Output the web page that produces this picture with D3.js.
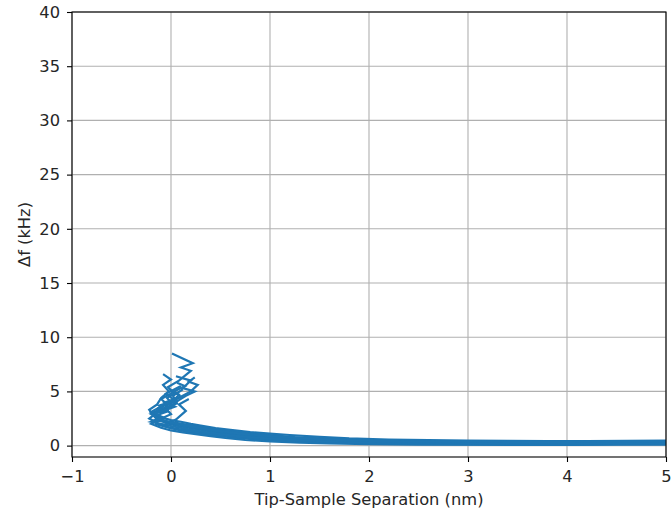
<!DOCTYPE html>
<html><head><meta charset="utf-8">
<script src="https://cdn.jsdelivr.net/npm/d3@7"></script>
<style>body{margin:0;background:#fff}svg{display:block}text{font-family:"DejaVu Sans",sans-serif;fill:#262626}</style>
</head><body>
<script>
const xTicks = [-1, 0, 1, 2, 3, 4, 5];
const yTicks = [0, 5, 10, 15, 20, 25, 30, 35, 40];
const xLabel = "Tip-Sample Separation (nm)";
const yLabel = "Δf (kHz)";

const sepA = [5.0, 4.6, 4.2, 3.8, 3.4, 3.0, 2.6, 2.2, 1.8, 1.5, 1.2, 1.0, 0.8, 0.6, 0.45, 0.3, 0.2, 0.1, 0.0, -0.1, -0.18, -0.12, -0.05, -0.1, 0.02, -0.03, 0.08, 0.2, 0.1, 0.22, 0.01];
const dfA  = [0.46, 0.45, 0.42, 0.42, 0.44, 0.47, 0.5, 0.56, 0.66, 0.8, 0.98, 1.1, 1.25, 1.45, 1.62, 1.85, 2.0, 2.2, 2.35, 2.6, 2.9, 3.4, 3.9, 4.3, 4.9, 5.4, 6.0, 6.9, 7.2, 7.6, 8.5];
const sepB = [5.0, 4.5, 4.0, 3.5, 3.0, 2.5, 2.0, 1.7, 1.4, 1.1, 0.9, 0.7, 0.5, 0.35, 0.22, 0.1, -0.02, -0.12, -0.22, -0.15, -0.06, 0.0, 0.1, 0.2, 0.27, 0.18, 0.24];
const dfB  = [0.15, 0.14, 0.1, 0.1, 0.12, 0.15, 0.2, 0.27, 0.35, 0.45, 0.55, 0.7, 0.88, 1.05, 1.2, 1.4, 1.65, 2.0, 2.5, 3.0, 3.5, 4.0, 4.5, 5.0, 5.6, 5.9, 6.3];
const sepC = [5.0, 4.4, 3.9, 3.3, 2.8, 2.3, 1.9, 1.5, 1.2, 0.95, 0.75, 0.55, 0.4, 0.25, 0.12, 0.02, -0.08, -0.18, -0.22, -0.14, -0.1, -0.02, -0.08, 0.0, -0.08];
const dfC  = [0.38, 0.36, 0.33, 0.33, 0.36, 0.4, 0.46, 0.6, 0.75, 0.92, 1.08, 1.3, 1.48, 1.68, 1.88, 2.05, 2.3, 2.8, 3.3, 3.8, 4.4, 5.0, 5.6, 6.1, 6.6];
const sepD = [5.0, 4.5, 4.0, 3.5, 3.0, 2.5, 2.0, 1.6, 1.3, 1.0, 0.75, 0.55, 0.4, 0.25, 0.12, 0.0, -0.1, -0.2, -0.12, 0.0, -0.05, 0.06, 0.02, 0.12];
const dfD  = [0.1, 0.1, 0.07, 0.06, 0.08, 0.1, 0.13, 0.2, 0.28, 0.38, 0.52, 0.7, 0.88, 1.05, 1.22, 1.4, 1.65, 2.0, 2.4, 2.9, 3.4, 3.9, 4.6, 5.2];
const sepE = [5.0, 4.5, 4.0, 3.5, 3.0, 2.5, 2.0, 1.6, 1.3, 1.05, 0.85, 0.65, 0.5, 0.35, 0.2, 0.08, -0.04, -0.15, -0.2, -0.1, 0.0, 0.08, 0.15, 0.24, 0.12, 0.2, 0.05];
const dfE  = [0.3, 0.3, 0.25, 0.25, 0.28, 0.3, 0.34, 0.44, 0.55, 0.68, 0.82, 1.0, 1.18, 1.38, 1.6, 1.8, 2.05, 2.5, 3.0, 3.3, 3.7, 4.2, 4.6, 5.0, 5.3, 6.0, 6.4];
const sepF = [5.0, 4.5, 4.0, 3.5, 3.0, 2.5, 2.0, 1.6, 1.25, 1.0, 0.8, 0.6, 0.42, 0.28, 0.15, 0.05, -0.05, -0.18, -0.08, -0.2, -0.1, 0.05, -0.05, 0.1];
const dfF  = [0.42, 0.42, 0.38, 0.37, 0.4, 0.44, 0.5, 0.62, 0.78, 0.98, 1.12, 1.35, 1.55, 1.75, 1.95, 2.1, 2.2, 2.3, 2.6, 3.1, 3.6, 4.1, 4.8, 5.5];
const sepG = [5.0, 4.5, 4.0, 3.5, 3.0, 2.5, 2.0, 1.6, 1.3, 1.0, 0.8, 0.6, 0.45, 0.3, 0.18, 0.06, -0.06, -0.16, -0.05, 0.05, 0.15, 0.08, 0.18];
const dfG  = [0.22, 0.2, 0.17, 0.17, 0.2, 0.22, 0.26, 0.34, 0.42, 0.55, 0.68, 0.85, 1.0, 1.2, 1.38, 1.55, 1.75, 2.0, 1.95, 2.4, 3.2, 3.8, 4.3];
const sepH = [5.0, 4.5, 4.0, 3.5, 3.0, 2.5, 2.0, 1.6, 1.3, 1.0, 0.8, 0.6, 0.45, 0.3, 0.2, 0.1, 0.0, -0.08, -0.16, -0.05, -0.12, 0.0, -0.04, 0.05];
const dfH  = [0.34, 0.33, 0.3, 0.3, 0.33, 0.36, 0.4, 0.5, 0.62, 0.8, 0.95, 1.15, 1.32, 1.55, 1.72, 1.9, 2.1, 2.3, 2.75, 3.1, 3.5, 4.0, 4.4, 4.9];
const sepI = [5.0, 4.5, 4.0, 3.5, 3.0, 2.5, 2.0, 1.6, 1.3, 1.0, 0.8, 0.6, 0.45, 0.3, 0.18, 0.05, -0.08, -0.2, -0.1, -0.16, -0.04, -0.12, 0.02, 0.08, 0.0];
const dfI  = [0.26, 0.25, 0.2, 0.21, 0.24, 0.27, 0.3, 0.4, 0.5, 0.64, 0.78, 0.95, 1.12, 1.32, 1.5, 1.72, 1.95, 2.2, 2.5, 3.0, 3.2, 3.7, 4.1, 4.7, 5.1];
const sepJ = [5.0, 4.5, 4.0, 3.5, 3.0, 2.5, 2.0, 1.6, 1.3, 1.0, 0.8, 0.6, 0.45, 0.3, 0.2, 0.1, 0.0, -0.1, -0.2, -0.08, 0.04, -0.06, 0.1, 0.03, 0.14, 0.06];
const dfJ  = [0.38, 0.37, 0.34, 0.33, 0.36, 0.4, 0.44, 0.55, 0.7, 0.88, 1.02, 1.22, 1.4, 1.62, 1.8, 1.98, 2.15, 2.4, 2.9, 3.2, 3.6, 4.0, 4.5, 5.0, 5.5, 5.8];

const sweeps = [[sepA, dfA], [sepB, dfB], [sepC, dfC], [sepD, dfD], [sepE, dfE],
                [sepF, dfF], [sepG, dfG], [sepH, dfH], [sepI, dfI], [sepJ, dfJ]];

const W = 672, H = 511;
const m = {left: 72, right: 6, top: 12, bottom: 54};
const svg = d3.select("body").append("svg").attr("width", W).attr("height", H);
const x = d3.scaleLinear().domain([-1, 5]).range([m.left, W - m.right]);
const y = d3.scaleLinear().domain([-1.05, 40]).range([H - m.bottom, m.top]);
const FS = "16.3px";

// grid
const g = svg.append("g");
g.selectAll(".gx").data(xTicks).join("line")
  .attr("x1", d => x(d)).attr("x2", d => x(d)).attr("y1", y(-1.05)).attr("y2", y(40))
  .attr("stroke", "#b0b0b0").attr("stroke-width", 1.1);
g.selectAll(".gy").data(yTicks).join("line")
  .attr("y1", d => y(d)).attr("y2", d => y(d)).attr("x1", x(-1)).attr("x2", x(5))
  .attr("stroke", "#b0b0b0").attr("stroke-width", 1.1);

// data
const line = d3.line().x(d => x(d[0])).y(d => y(d[1]));
svg.append("clipPath").attr("id", "c").append("rect")
  .attr("x", x(-1)).attr("y", y(40)).attr("width", x(5) - x(-1)).attr("height", y(-1.05) - y(40));
svg.append("g").attr("clip-path", "url(#c)").selectAll("path").data(sweeps).join("path")
  .attr("d", s => line(s[0].map((v, i) => [v, s[1][i]])))
  .attr("fill", "none").attr("stroke", "#1f77b4").attr("stroke-width", 2.2)
  .attr("stroke-linejoin", "miter");

// axes
const fmt = d => (d < 0 ? "\u2212" + Math.abs(d) : String(d));
const xa = svg.append("g").attr("transform", `translate(0,${y(-1.05)})`)
  .call(d3.axisBottom(x).tickValues(xTicks).tickFormat(fmt).tickSizeOuter(0).tickSize(5).tickPadding(8));
const ya = svg.append("g").attr("transform", `translate(${x(-1)},0)`)
  .call(d3.axisLeft(y).tickValues(yTicks).tickFormat(fmt).tickSizeOuter(0).tickSize(5).tickPadding(7));
[xa, ya].forEach(a => {
  a.selectAll("text").style("font-size", FS).style("font-family", "DejaVu Sans").attr("fill", "#262626");
  a.select(".domain").remove();
  a.selectAll(".tick line").attr("stroke", "#000").attr("stroke-width", 1.1);
});
svg.append("rect").attr("x", x(-1)).attr("y", y(40)).attr("width", x(5) - x(-1)).attr("height", y(-1.05) - y(40))
  .attr("fill", "none").attr("stroke", "#000").attr("stroke-width", 1.1);

svg.append("text").attr("x", (x(-1) + x(5)) / 2).attr("y", 505).attr("text-anchor", "middle")
  .style("font-size", FS).text(xLabel);
svg.append("text").attr("transform", `translate(30,${(y(40) + y(-1.05)) / 2}) rotate(-90)`).attr("text-anchor", "middle")
  .style("font-size", FS).text(yLabel);
</script>
</body></html>
